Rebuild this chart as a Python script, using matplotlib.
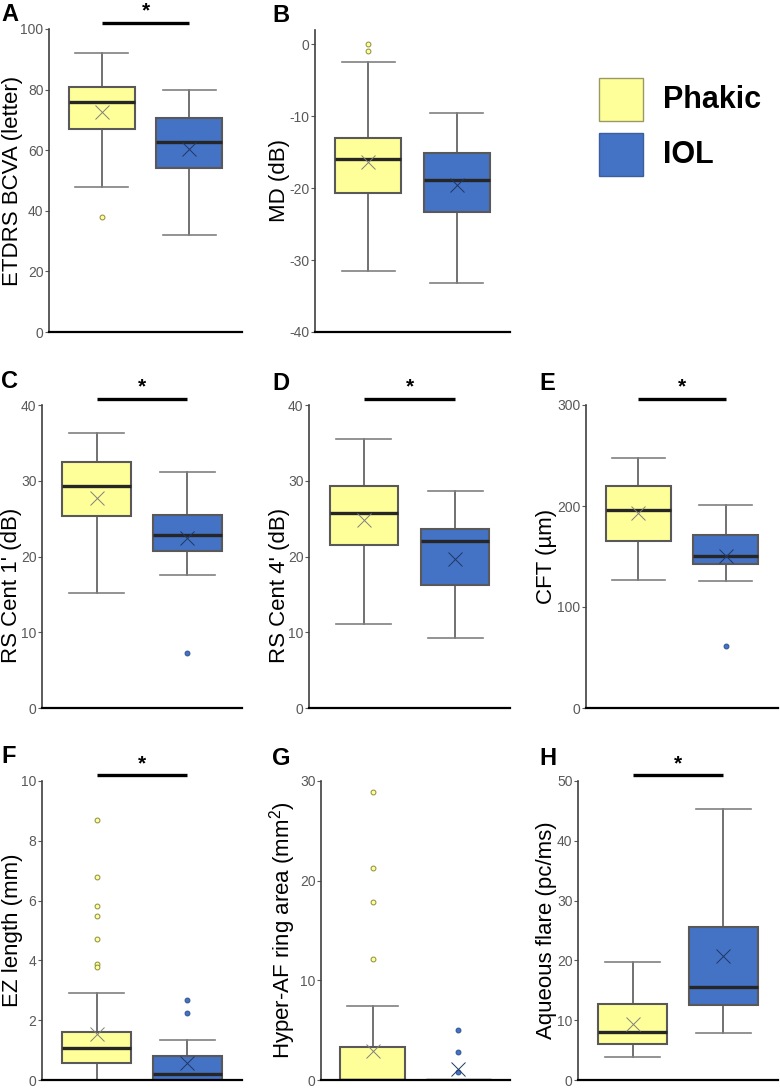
import numpy as np
import matplotlib
matplotlib.use('Agg')
from matplotlib import pyplot as plt
from matplotlib.patches import Rectangle
from matplotlib.transforms import blended_transform_factory

plt.rcParams['font.family'] = ['Liberation Sans', 'DejaVu Sans']
plt.rcParams['mathtext.fontset'] = 'custom'
plt.rcParams['mathtext.rm'] = 'Liberation Sans'
plt.rcParams['axes.unicode_minus'] = False

# panel data
panels = ['A', 'B', 'C', 'D', 'E', 'F', 'G', 'H']
ylabels = ['ETDRS BCVA (letter)', 'MD (dB)', "RS Cent 1' (dB)", "RS Cent 4' (dB)",
           'CFT (µm)', 'EZ length (mm)', 'Hyper-AF ring area (mm$\\mathregular{^2}$)',
           'Aqueous flare (pc/ms)']
ylims = [(0, 100), (-40, 2), (0, 40), (0, 40), (0, 300), (0, 10), (0, 30), (0, 50)]
yticks = [np.arange(0, 101, 20), np.arange(-40, 1, 10), np.arange(0, 41, 10),
          np.arange(0, 41, 10), np.arange(0, 301, 100), np.arange(0, 11, 2),
          np.arange(0, 31, 10), np.arange(0, 51, 10)]
significant = [True, False, True, True, True, True, False, True]
groups = ['Phakic', 'IOL']

phakic_whislo = [47.9, -31.5, 15.2, 11.1, 126.5, 0.0, 0.0, 3.9]
phakic_q1 = [67.0, -20.6, 25.3, 21.5, 165.8, 0.57, 0.0, 6.0]
phakic_med = [75.9, -15.9, 29.25, 25.8, 196.0, 1.06, 0.0, 8.0]
phakic_q3 = [80.8, -13.0, 32.5, 29.3, 219.7, 1.62, 3.27, 12.7]
phakic_whishi = [92.1, -2.4, 36.3, 35.5, 247.8, 2.92, 7.47, 19.7]
phakic_mean = [72.5, -16.4, 27.75, 24.8, 192.6, 1.53, 2.88, 9.3]
phakic_fliers = [[37.8], [0.05, -0.9], [], [], [],
                 [8.68, 6.79, 5.82, 5.47, 4.72, 3.88, 3.79],
                 [28.9, 21.3, 17.9, 12.1], []]

iol_whislo = [31.9, -33.2, 17.5, 9.2, 125.5, 0.0, 0.0, 7.8]
iol_q1 = [54.1, -23.3, 20.7, 16.3, 143.0, 0.0, 0.0, 12.5]
iol_med = [62.8, -18.9, 22.9, 22.1, 150.3, 0.21, 0.0, 15.6]
iol_q3 = [70.7, -15.1, 25.5, 23.6, 171.1, 0.80, 0.0, 25.6]
iol_whishi = [79.9, -9.5, 31.2, 28.6, 200.9, 1.33, 0.0, 45.4]
iol_mean = [60.3, -19.5, 22.5, 19.7, 150.6, 0.57, 1.06, 20.7]
iol_fliers = [[], [], [7.3], [], [61.8], [2.67, 2.23], [5.0, 2.85, 0.76], []]

yellow = '#FFFF99'
blue = '#4472C4'
edge = '#595959'
tick_col = '#595959'

W, H = 780, 1089
# axes boxes in pixels: left, right, top, bottom
boxes_px = [(49, 242, 29, 332), (315, 510, 30, 332),
            (42, 242, 405, 708), (309, 510, 405, 708), (586, 778, 405, 708),
            (42, 242, 781, 1080), (321, 510, 781, 1080), (578, 778, 781, 1080)]
letter_px = [(1, 3), (272, 4), (1, 370), (272, 372), (539, 372),
             (1, 745), (272, 747), (539, 747)]
# y label: baseline x (px), vertical centre (axes fraction)
label_base = [18, 285, 17, 285, 552, 18, 293, 552]
label_yc = [0.5, 0.5, 0.406, 0.406, 0.5, 0.5, 0.5, 0.5]

fig = plt.figure(figsize=(W / 100, H / 100), dpi=100)

for i, p in enumerate(panels):
    l, r, t, b = boxes_px[i]
    ax = fig.add_axes([l / W, 1 - b / H, (r - l) / W, (b - t) / H])
    stats = [
        dict(whislo=phakic_whislo[i], q1=phakic_q1[i], med=phakic_med[i],
             q3=phakic_q3[i], whishi=phakic_whishi[i], mean=phakic_mean[i],
             fliers=phakic_fliers[i], label=groups[0]),
        dict(whislo=iol_whislo[i], q1=iol_q1[i], med=iol_med[i],
             q3=iol_q3[i], whishi=iol_whishi[i], mean=iol_mean[i],
             fliers=iol_fliers[i], label=groups[1]),
    ]
    bp = ax.bxp(stats, positions=[1, 2], widths=0.75, capwidths=0.6,
                patch_artist=True, showmeans=True, manage_ticks=False,
                boxprops=dict(edgecolor=edge, linewidth=1.5),
                whiskerprops=dict(color=edge, linewidth=1.2),
                capprops=dict(color='#808080', linewidth=1.2),
                medianprops=dict(color='#262626', linewidth=2.4),
                meanprops=dict(marker='x', markersize=10, markeredgewidth=0.7),
                flierprops=dict(marker='o', markersize=3.5, markeredgewidth=0.7))
    for patch, fc in zip(bp['boxes'], [yellow, blue]):
        patch.set_facecolor(fc)
    for m, c in zip(bp['means'], ['#808080', '#1F3864']):
        m.set_markeredgecolor(c)
    for f, fc, ec in zip(bp['fliers'], [yellow, blue], ['#8A8A40', '#2F528F']):
        f.set_markerfacecolor(fc)
        f.set_markeredgecolor(ec)

    ax.set_xlim(0.4, 2.6)
    ax.set_ylim(*ylims[i])
    ax.set_yticks(yticks[i])
    ax.set_xticks([])
    ax.spines['top'].set_visible(False)
    ax.spines['right'].set_visible(False)
    ax.spines['left'].set_color('#404040')
    ax.spines['left'].set_linewidth(1.2)
    ax.spines['bottom'].set_color('black')
    ax.spines['bottom'].set_linewidth(1.6)
    ax.spines['bottom'].set_zorder(5)
    ax.tick_params(axis='y', length=3, width=0.8, color=tick_col,
                   labelcolor=tick_col, labelsize=10, pad=1)
    fs = 16
    ax.set_ylabel(ylabels[i], fontsize=fs)
    anchor_px = label_base[i] + 0.21 * fs * 100 / 72
    ax.yaxis.set_label_coords((anchor_px - l) / (r - l), label_yc[i])

    if significant[i]:
        tr = blended_transform_factory(ax.transData, ax.transAxes)
        ax.plot([1, 2], [1.02, 1.02], color='black', lw=2.4, transform=tr,
                clip_on=False, solid_capstyle='butt')
        ax.text(1.5, 1.09, '*', transform=tr, ha='center', va='top',
                fontsize=15, fontweight='bold')

    lx, ly = letter_px[i]
    fig.text(lx / W, 1 - ly / H, p, fontsize=17, fontweight='bold',
             ha='left', va='top')

# legend
for (y0, fc, ec, name) in [(78, yellow, '#999966', groups[0]),
                           (133, blue, '#3A5E9E', groups[1])]:
    fig.add_artist(Rectangle((599 / W, 1 - (y0 + 43) / H), 44 / W, 43 / H,
                             transform=fig.transFigure, facecolor=fc,
                             edgecolor=ec, linewidth=1))
    fig.text(663 / W, 1 - (y0 + 22) / H, name, fontsize=22, fontweight='bold',
             ha='left', va='center')

fig.savefig('out.png', dpi=100)
